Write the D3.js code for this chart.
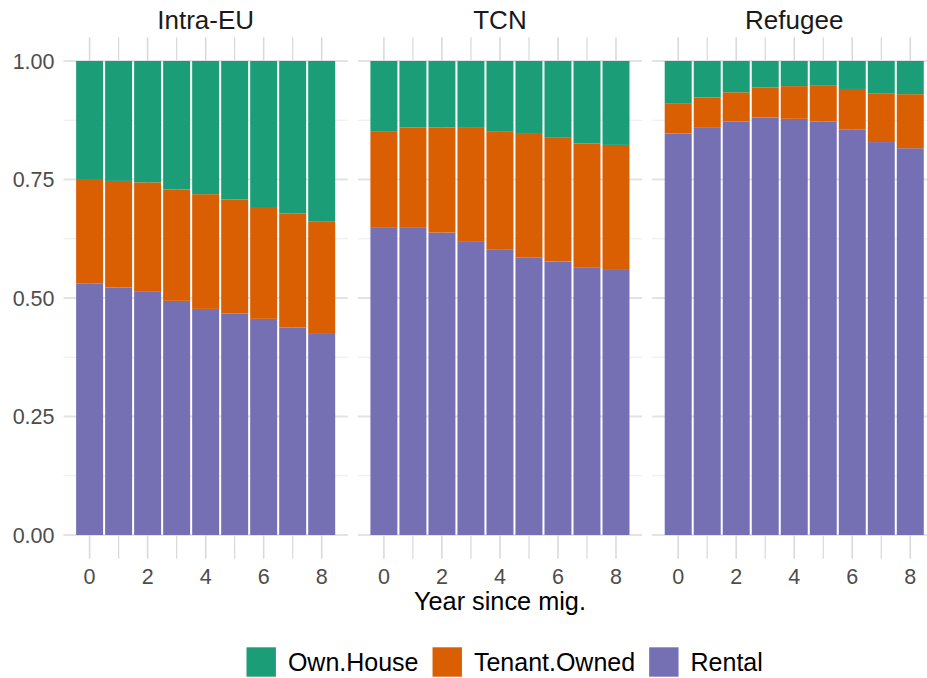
<!DOCTYPE html>
<html>
<head>
<meta charset="utf-8">
<script src="https://cdn.jsdelivr.net/npm/d3@7"></script>
<style>
  html, body { margin: 0; padding: 0; background: #ffffff; }
  svg { display: block; font-family: "Liberation Sans", Arial, Helvetica, sans-serif; }
</style>
</head>
<body>
<svg id="chart" width="927" height="678"></svg>
<script>
// ---- Data ----
const years = [0, 1, 2, 3, 4, 5, 6, 7, 8];
const groups = ["Intra-EU", "TCN", "Refugee"];
const tenureKeys = ["Rental", "Tenant.Owned", "Own.House"];   // stack order bottom -> top
const legendKeys = ["Own.House", "Tenant.Owned", "Rental"];
const yTicks = [0, 0.25, 0.5, 0.75, 1];
const yMinor = [0.125, 0.375, 0.625, 0.875];
const xTicks = [0, 2, 4, 6, 8];
const xMinor = [1, 3, 5, 7];

const rentalIntraEU = [0.531, 0.522, 0.513, 0.494, 0.477, 0.467, 0.456, 0.438, 0.426];
const tenantIntraEU = [0.220, 0.225, 0.231, 0.235, 0.242, 0.241, 0.236, 0.240, 0.236];
const ownIntraEU    = [0.249, 0.253, 0.256, 0.271, 0.281, 0.292, 0.308, 0.322, 0.338];

const rentalTCN = [0.648, 0.648, 0.638, 0.620, 0.603, 0.585, 0.577, 0.565, 0.561];
const tenantTCN = [0.204, 0.212, 0.222, 0.239, 0.249, 0.263, 0.261, 0.261, 0.262];
const ownTCN    = [0.148, 0.140, 0.140, 0.141, 0.148, 0.152, 0.162, 0.174, 0.177];

const rentalRefugee = [0.847, 0.859, 0.872, 0.881, 0.878, 0.872, 0.855, 0.829, 0.816];
const tenantRefugee = [0.064, 0.064, 0.062, 0.063, 0.069, 0.077, 0.086, 0.103, 0.114];
const ownRefugee    = [0.089, 0.077, 0.066, 0.056, 0.053, 0.051, 0.059, 0.068, 0.070];

const colors = { "Own.House": "#1B9E77", "Tenant.Owned": "#D95F02", "Rental": "#7570B3" };

const seriesByGroup = {
  "Intra-EU": [rentalIntraEU, tenantIntraEU, ownIntraEU],
  "TCN": [rentalTCN, tenantTCN, ownTCN],
  "Refugee": [rentalRefugee, tenantRefugee, ownRefugee]
};

// ---- Layout ----
const svg = d3.select("#chart");
const panelLeft0 = 63.5, panelWidth = 284.3, panelStep = 294.3;
const panelTop = 37.3, panelBottom = 558.7;

const y = d3.scaleLinear().domain([-0.05, 1.05]).range([panelBottom, panelTop]);
const x = d3.scaleLinear().domain([-0.9, 8.9]).range([0, panelWidth]);
const barW = x(0.93) - x(0);

const stack = d3.stack().keys(tenureKeys);

groups.forEach((g, gi) => {
  const px = panelLeft0 + gi * panelStep;
  const panel = svg.append("g").attr("transform", `translate(${px},0)`);

  // minor gridlines
  panel.selectAll("line.hmin").data(yMinor).join("line")
    .attr("x1", 0).attr("x2", panelWidth)
    .attr("y1", d => y(d)).attr("y2", d => y(d))
    .attr("stroke", "#ebebeb").attr("stroke-width", 1);
  panel.selectAll("line.vmin").data(xMinor).join("line")
    .attr("x1", d => x(d)).attr("x2", d => x(d))
    .attr("y1", panelTop).attr("y2", panelBottom)
    .attr("stroke", "#d9d9d9").attr("stroke-width", 1.2);
  // major gridlines
  panel.selectAll("line.hmaj").data(yTicks).join("line")
    .attr("x1", 0).attr("x2", panelWidth)
    .attr("y1", d => y(d)).attr("y2", d => y(d))
    .attr("stroke", "#e3e3e3").attr("stroke-width", 2);
  panel.selectAll("line.vmaj").data(xTicks).join("line")
    .attr("x1", d => x(d)).attr("x2", d => x(d))
    .attr("y1", panelTop).attr("y2", panelBottom)
    .attr("stroke", "#dadada").attr("stroke-width", 1.6);

  // bars
  const s = seriesByGroup[g];
  const rows = years.map((yr, i) => ({
    year: yr, "Rental": s[0][i], "Tenant.Owned": s[1][i], "Own.House": s[2][i]
  }));
  const stacked = stack(rows);
  panel.selectAll("g.layer").data(stacked).join("g")
    .attr("fill", d => colors[d.key])
    .selectAll("rect").data(d => d).join("rect")
      .attr("x", d => x(d.data.year) - barW / 2)
      .attr("width", barW)
      .attr("y", d => y(d[1]))
      .attr("height", d => y(d[0]) - y(d[1]));

  // strip label
  svg.append("text")
    .attr("x", px + panelWidth / 2).attr("y", 28.5)
    .attr("text-anchor", "middle")
    .attr("font-size", 26).attr("fill", "#1a1a1a")
    .text(g);

  // x tick labels
  panel.selectAll("text.xt").data(xTicks).join("text")
    .attr("x", d => x(d)).attr("y", 583.5)
    .attr("text-anchor", "middle")
    .attr("font-size", 21.5).attr("fill", "#4d4d4d")
    .text(d => d);
});

// y tick labels
svg.selectAll("text.yt").data(yTicks).join("text")
  .attr("x", 54.5).attr("y", d => y(d) + 7.9)
  .attr("text-anchor", "end")
  .attr("font-size", 21.5).attr("fill", "#4d4d4d")
  .text(d => d3.format(".2f")(d));

// x axis title
svg.append("text")
  .attr("x", panelLeft0 + (2 * panelStep + panelWidth) / 2).attr("y", 609.5)
  .attr("text-anchor", "middle")
  .attr("font-size", 25.3).attr("fill", "#000")
  .text("Year since mig.");

// legend
const legend = svg.append("g");
let lx = 246.5;
const keySize = 29.4, keyTop = 647.3;
legendKeys.forEach(k => {
  legend.append("rect")
    .attr("x", lx).attr("y", keyTop)
    .attr("width", keySize).attr("height", keySize)
    .attr("fill", colors[k]);
  const t = legend.append("text")
    .attr("x", lx + keySize + 12).attr("y", 671)
    .attr("font-size", 25).attr("fill", "#000")
    .text(k);
  lx = lx + keySize + 12 + t.node().getComputedTextLength() + 14;
});
</script>
</body>
</html>
